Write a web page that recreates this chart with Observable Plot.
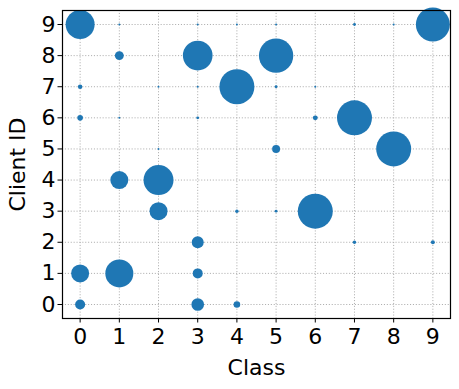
<!DOCTYPE html>
<html>
<head>
<meta charset="utf-8">
<script src="https://cdn.jsdelivr.net/npm/d3@7"></script>
<script src="https://cdn.jsdelivr.net/npm/@observablehq/plot@0.6"></script>
<style>
  html, body { margin: 0; padding: 0; background: #fff; }
  svg { font-family: "DejaVu Sans", sans-serif; }
</style>
</head>
<body>
<div id="chart"></div>
<script>
const classIds = [0, 1, 2, 3, 4, 5, 6, 7, 8, 9];
const clientIds = [0, 1, 2, 3, 4, 5, 6, 7, 8, 9];
const xTicks = [0, 1, 2, 3, 4, 5, 6, 7, 8, 9];
const yTicks = [0, 1, 2, 3, 4, 5, 6, 7, 8, 9];
// sample counts per client, indexed by class
const client0 = [25, 0, 0, 40, 11, 0, 0, 0, 0, 0];
const client1 = [81, 196, 0, 25, 0, 0, 0, 0, 0, 0];
const client2 = [0, 0, 0, 36, 0, 0, 0, 3, 0, 4];
const client3 = [0, 0, 81, 0, 3, 2, 306, 0, 0, 0];
const client4 = [0, 81, 225, 0, 0, 0, 0, 0, 0, 0];
const client5 = [0, 0, 1, 0, 0, 16, 0, 0, 306, 0];
const client6 = [8, 1, 0, 2, 0, 0, 6, 306, 0, 0];
const client7 = [5, 0, 1, 1, 306, 2, 1, 0, 0, 0];
const client8 = [0, 20, 0, 220, 0, 295, 0, 0, 0, 0];
const client9 = [210, 1, 0, 1, 1, 1, 0, 2, 1, 289];
const counts = [client0, client1, client2, client3, client4, client5, client6, client7, client8, client9];

const data = [];
clientIds.forEach((cid, i) => {
  classIds.forEach((cls, j) => {
    const v = counts[i][j];
    if (v > 0) data.push({cls, cid, v});
  });
});

const chart = Plot.plot({
  width: 459,
  height: 389,
  marginLeft: 62,
  marginRight: 9,
  marginTop: 10,
  marginBottom: 71,
  style: {fontFamily: "DejaVu Sans, sans-serif", background: "#fff"},
  x: {domain: [-0.45, 9.45], type: "linear"},
  y: {domain: [-0.45, 9.45], type: "linear"},
  r: {type: "sqrt", domain: [0, 324], range: [0, 18]},
  marks: [
    Plot.gridX(xTicks, {stroke: "#b0b0b0", strokeOpacity: 1, strokeDasharray: "1.1,1.8", strokeWidth: 1}),
    Plot.gridY(yTicks, {stroke: "#b0b0b0", strokeOpacity: 1, strokeDasharray: "1.1,1.8", strokeWidth: 1}),
    Plot.dot(data, {x: "cls", y: "cid", r: "v", fill: "#1f77b4", stroke: null}),
    Plot.frame({stroke: "black", strokeWidth: 1.2}),
    Plot.axisX(xTicks, {tickSize: 4.5, tickPadding: 5.5, fontSize: 22, tickFormat: d => String(d), stroke: "black", color: "black",
      label: "Class", labelAnchor: "center", labelOffset: 56, labelArrow: "none"}),
    Plot.axisY(yTicks, {tickSize: 4.5, tickPadding: 2.5, fontSize: 22, tickFormat: d => String(d), stroke: "black", color: "black",
      label: "Client ID", labelAnchor: "center", labelOffset: 53, labelArrow: "none"})
  ]
});
document.getElementById("chart").appendChild(chart);
</script>
</body>
</html>
